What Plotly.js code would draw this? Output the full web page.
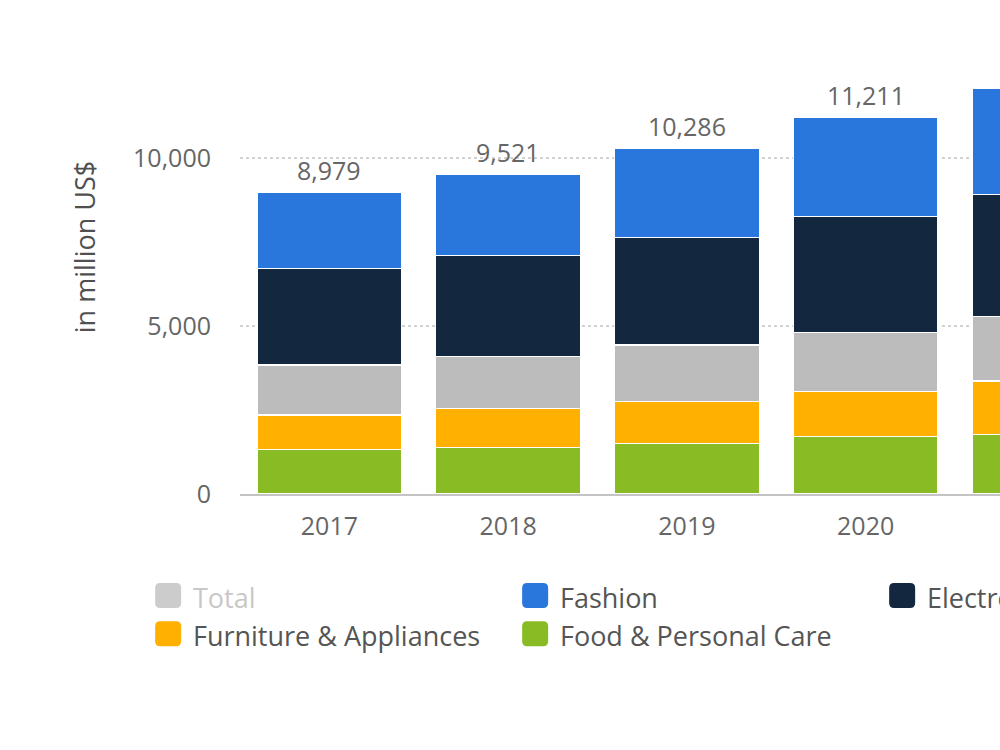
<!DOCTYPE html>
<html>
<head>
<meta charset="utf-8">
<script src="https://cdn.plot.ly/plotly-3.0.1.min.js"></script>
<style>
  html, body { margin: 0; padding: 0; overflow: hidden; background: #ffffff; }
  #chart { width: 1800px; height: 750px; }
</style>
</head>
<body>
<div id="chart"></div>
<script>
// ---- data (million US$) ----
var years = ['2017', '2018', '2019', '2020', '2021'];
var foodPersonalCare = [1330, 1378, 1509, 1705, 1760];
var furnitureAppliances = [1021, 1173, 1238, 1339, 1604];
var toysHobbyDiy = [1488, 1536, 1688, 1768, 1905];
var electronicsMedia = [2878, 3006, 3193, 3440, 3646];
var fashion = [2262, 2428, 2658, 2959, 3161];
var totals = [8979, 9521, 10286, 11211, 12076];

var seriesNames = ['Food & Personal Care', 'Furniture & Appliances', 'Toys, Hobby & DIY', 'Electronics & Media', 'Fashion'];
var seriesValues = [foodPersonalCare, furnitureAppliances, toysHobbyDiy, electronicsMedia, fashion];
var seriesColors = ['#89bb25', '#ffb000', '#bcbcbc', '#13283e', '#2976dd'];

var FONT = '"Open Sans", "Noto Sans", sans-serif';

function fmt(v) {
  return String(v).replace(/\B(?=(\d{3})+(?!\d))/g, ',');
}

var traces = seriesNames.map(function (name, i) {
  return {
    type: 'bar',
    name: name,
    x: years,
    y: seriesValues[i],
    marker: { color: seriesColors[i], line: { color: '#ffffff', width: 1.2 } },
    hovertemplate: '%{x}: %{y:,}<extra>' + name + '</extra>'
  };
});
traces.push({
  type: 'bar',
  name: 'Total',
  x: years,
  y: totals,
  visible: 'legendonly',
  marker: { color: '#9a9a9a' }
});

// category axis: annotation x given as category index (year strings look numeric)
var annotations = years.map(function (yr, i) {
  return {
    x: i, y: totals[i], xref: 'x', yref: 'y',
    text: fmt(totals[i]),
    showarrow: false, yanchor: 'bottom', yshift: 3,
    font: { family: FONT, size: 25, color: '#666666' }
  };
});

var layout = {
  width: 1800,
  height: 750,
  margin: { l: 240, r: 0, t: 0, b: 256 },
  paper_bgcolor: '#ffffff',
  plot_bgcolor: '#ffffff',
  barmode: 'stack',
  bargap: 0.19,
  showlegend: true,
  font: { family: FONT, color: '#666666' },
  xaxis: {
    type: 'category',
    range: [-0.5, 8.227],
    showgrid: false,
    showline: true,
    linecolor: '#c4c4c4',
    linewidth: 2,
    ticks: '',
    ticklabelstandoff: 9,
    tickfont: { family: FONT, size: 25, color: '#666666' },
    fixedrange: true
  },
  yaxis: {
    range: [0, 14695],
    tickvals: [0, 5000, 10000],
    tickformat: ',d',
    showgrid: true,
    gridcolor: '#d2d2d2',
    gridwidth: 1.5,
    griddash: 'dot',
    zeroline: false,
    showline: false,
    ticks: '',
    ticklabelstandoff: 28,
    tickfont: { family: FONT, size: 25, color: '#666666' },
    title: { text: 'in million US$', standoff: 29, font: { family: FONT, size: 27, color: '#505050' } },
    fixedrange: true
  },
  legend: {
    orientation: 'h',
    traceorder: 'reversed',
    x: -0.0558,
    xanchor: 'left',
    y: -0.161,
    yanchor: 'top',
    entrywidth: 322,
    entrywidthmode: 'pixels',
    itemclick: false,
    itemdoubleclick: false,
    font: { family: FONT, size: 27, color: '#555555' }
  },
  annotations: annotations
};

Plotly.newPlot('chart', traces, layout, { displayModeBar: false }).then(function (gd) {
  var paths = gd.querySelectorAll('.legend .legendpoints path');
  paths.forEach(function (p) {
    p.setAttribute('d', 'M-12.8,-14.5H3.2Q8.2,-14.5 8.2,-9.5V5.5Q8.2,10.5 3.2,10.5H-12.8Q-17.8,10.5 -17.8,5.5V-9.5Q-17.8,-14.5 -12.8,-14.5Z');
    p.style.strokeWidth = '0px';
  });
  // hidden "Total" entry is drawn lighter, as in the reference
  gd.querySelectorAll('.legend .traces').forEach(function (g) {
    var t = g.querySelector('.legendtext');
    if (t && t.textContent === 'Total') { t.style.fill = '#909090'; }
  });
});
</script>
</body>
</html>
